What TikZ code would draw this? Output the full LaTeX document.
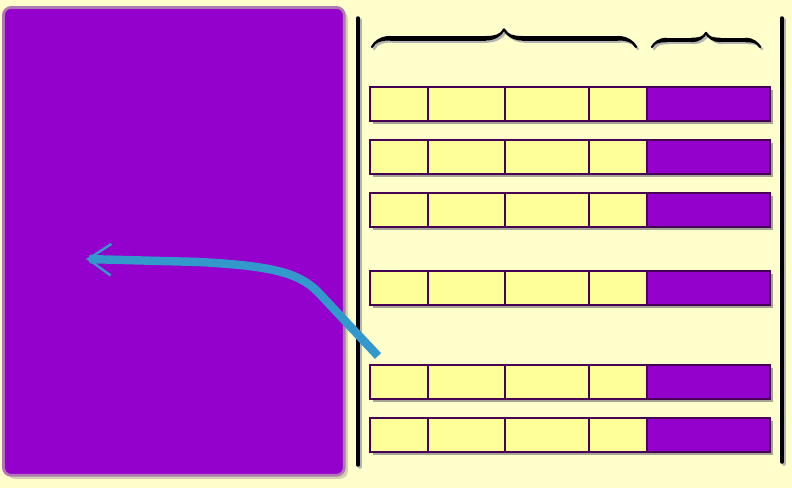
\documentclass[tikz,border=0pt]{standalone}
\usetikzlibrary{shadows,decorations.pathreplacing,calligraphy,arrows.meta}
\definecolor{paper}{RGB}{255,255,204}
\definecolor{plum}{RGB}{148,0,204}
\definecolor{mauve}{RGB}{176,120,176}
\definecolor{cellfill}{RGB}{255,255,153}
\definecolor{edge}{RGB}{72,0,84}
\definecolor{flow}{RGB}{51,153,204}

\begin{document}
\begin{tikzpicture}[x=0.02cm, y=-0.02cm, >=latex]
  \tikzstyle{panel}=[draw=mauve, fill=plum, line width=1.6pt, rounded corners=4.5pt,
                     anchor=north west, inner sep=0pt,
                     drop shadow={shadow xshift=2pt, shadow yshift=-2pt, opacity=0.35}]
  \tikzstyle{bar}=[fill=cellfill, anchor=north west, inner sep=0pt,
                   minimum width=8cm, minimum height=0.68cm,
                   drop shadow={shadow xshift=2.2pt, shadow yshift=-2.2pt, opacity=0.7}]
  \tikzstyle{cell}=[draw=edge, fill=cellfill, line width=0.9pt, anchor=north west,
                    inner sep=0pt, minimum height=0.68cm]
  \tikzstyle{rule}=[line width=2pt, line cap=round]
  \tikzstyle{curly}=[decorate, line width=2.6pt, pen colour={black}]

  % ================= nen va khung ben trai =================
  \fill[paper] (0,0) rectangle (792,488);
  \useasboundingbox (0,0) rectangle (792,488);
  \node[panel, minimum width=6.82cm, minimum height=9.36cm] (store) at (2,6) {};

  % ================= hai duong doc =================
  \draw[rule, black!30] (360,20) -- (360,467);
  \draw[rule] (358,18) -- (358,465);
  \draw[rule, black!30] (784,20) -- (784,464);
  \draw[rule] (782,18) -- (782,462);

  % ================= ngoac tren =================
  \draw[curly, pen colour={black!30}, decoration={calligraphic brace, amplitude=10pt}]
    (374,49) -- (638,49);
  \draw[curly, decoration={calligraphic brace, amplitude=10pt}] (372,47) -- (636,47);
  \draw[curly, pen colour={black!30}, decoration={calligraphic brace, amplitude=8pt}]
    (654,49) -- (762,49);
  \draw[curly, decoration={calligraphic brace, amplitude=8pt}] (652,47) -- (760,47);

  % ================= cac hang ban ghi =================
  \foreach \r/\y in {1/86, 2/139, 3/192, 4/270, 5/364, 6/417} {
    \node[bar] (bar\r) at (369,\y) {};
    \foreach \k/\xa/\w in {1/369/58, 2/427/77, 3/504/84, 4/588/58}
      \node[cell, minimum width=\w*0.02cm] (c\r\k) at (\xa,\y) {};
    \node[cell, fill=plum, minimum width=2.46cm] (v\r) at (646,\y) {};
  }

  % ================= mui ten xanh =================
  \coordinate (src) at (378,356);
  \coordinate (dst) at (86,259);
  \draw[flow, line width=4.8pt, -{Straight Barb[length=13pt, width=18pt, line width=1.4pt]}]
    (src) -- (318,292) .. controls (298,272) and (270,266) .. (200,262) -- (dst);
\end{tikzpicture}
\end{document}
